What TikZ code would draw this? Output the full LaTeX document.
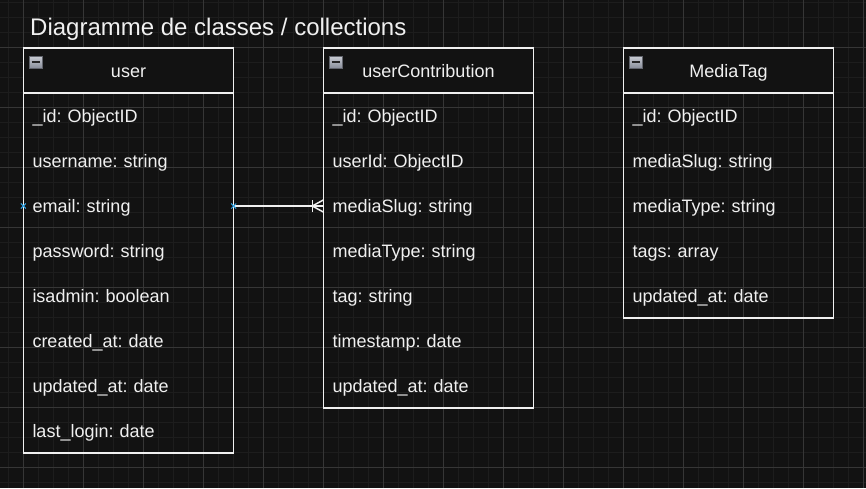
\documentclass[tikz,border=0pt]{standalone}
\usepackage{fontspec}
\setmainfont{Liberation Sans}
\usetikzlibrary{shapes.misc}
\frenchspacing
\definecolor{bgdark}{HTML}{121212}
\definecolor{gridminor}{HTML}{1D1D1D}
\definecolor{gridmajor}{HTML}{363636}
\definecolor{inkwhite}{HTML}{F0F0F0}
\definecolor{handleblue}{HTML}{2FA4E7}
\definecolor{icontop}{HTML}{CACDD4}
\definecolor{iconbot}{HTML}{8A8F9B}

\begin{document}
\begin{tikzpicture}[x=1pt,y=1pt,
  every node/.style={inner sep=0pt,text=inkwhite},
  classbox/.style={draw=inkwhite,line width=1.5pt,minimum width=210pt},
  header/.style={classbox,fill=bgdark,minimum height=45pt,text height=16.3pt,text depth=2.6pt,font=\fontsize{18}{21}\selectfont},
  field/.style={minimum width=210pt,minimum height=45pt,text width=192pt,align=left,text height=16.3pt,text depth=3.7pt,font=\fontsize{18}{21}\selectfont},
  minusicon/.style={draw=iconbot!70!black,line width=0.6pt,top color=icontop,bottom color=iconbot,minimum width=13pt,minimum height=12pt,
    path picture={\draw[black!85,line width=1.6pt] ([xshift=2.5pt]path picture bounding box.west) -- ([xshift=-2.5pt]path picture bounding box.east);}},
  handle/.style={cross out,draw=handleblue,line width=1pt,minimum size=4pt},
  link/.style={draw=inkwhite,line width=1.5pt}]
\useasboundingbox (0,0) rectangle (866,-488);
\fill[bgdark] (0,0) rectangle (866,-488);
% grid
\foreach \x in {8,23,...,866} \draw[gridminor,line width=1pt] (\x,0) -- (\x,-488);
\foreach \y in {2,17,...,488} \draw[gridminor,line width=1pt] (0,-\y) -- (866,-\y);
\foreach \x in {23,83,...,866} \draw[gridmajor,line width=1pt] (\x,0) -- (\x,-488);
\foreach \y in {47,107,...,488} \draw[gridmajor,line width=1pt] (0,-\y) -- (866,-\y);

\node[anchor=base west,font=\fontsize{24}{28}\selectfont] (title) at (30,-35.3) {Diagramme de classes / collections};

% user
\node[classbox,minimum height=405pt] (user) at (128.5,-250.5) {};
\node[header] (userH) at (128.5,-70.5) {user};
\node[minusicon] (userI) at (35.5,-62) {};
\node[field] (u1) at (128.5,-116) {\_id: ObjectID};
\node[field] (u2) at (128.5,-161) {username: string};
\node[field] (u3) at (128.5,-206) {email: string};
\node[field] (u4) at (128.5,-251) {password: string};
\node[field] (u5) at (128.5,-296) {isadmin: boolean};
\node[field] (u6) at (128.5,-341) {created\_at: date};
\node[field] (u7) at (128.5,-386) {updated\_at: date};
\node[field] (u8) at (128.5,-431) {last\_login: date};

% userContribution
\node[classbox,minimum height=360pt] (contrib) at (428.5,-228) {};
\node[header] (contribH) at (428.5,-70.5) {userContribution};
\node[minusicon] (contribI) at (335.5,-62) {};
\node[field] (c1) at (428.5,-116) {\_id: ObjectID};
\node[field] (c2) at (428.5,-161) {userId: ObjectID};
\node[field] (c3) at (428.5,-206) {mediaSlug: string};
\node[field] (c4) at (428.5,-251) {mediaType: string};
\node[field] (c5) at (428.5,-296) {tag: string};
\node[field] (c6) at (428.5,-341) {timestamp: date};
\node[field] (c7) at (428.5,-386) {updated\_at: date};

% MediaTag
\node[classbox,minimum height=270pt] (tag) at (728.5,-183) {};
\node[header] (tagH) at (728.5,-70.5) {MediaTag};
\node[minusicon] (tagI) at (635.5,-62) {};
\node[field] (t1) at (728.5,-116) {\_id: ObjectID};
\node[field] (t2) at (728.5,-161) {mediaSlug: string};
\node[field] (t3) at (728.5,-206) {mediaType: string};
\node[field] (t4) at (728.5,-251) {tags: array};
\node[field] (t5) at (728.5,-296) {updated\_at: date};

% relation user -> userContribution
\draw[link] (u3.east) -- (c3.west);
\draw[link] ([shift={(-11pt,6pt)}]c3.west) -- ([shift={(-11pt,-6pt)}]c3.west);
\draw[link] ([xshift=-11pt]c3.west) -- ([yshift=6pt]c3.west);
\draw[link] ([xshift=-11pt]c3.west) -- ([yshift=-6pt]c3.west);
\node[handle] (h1) at (u3.west) {};
\node[handle] (h2) at (u3.east) {};
\end{tikzpicture}
\end{document}
